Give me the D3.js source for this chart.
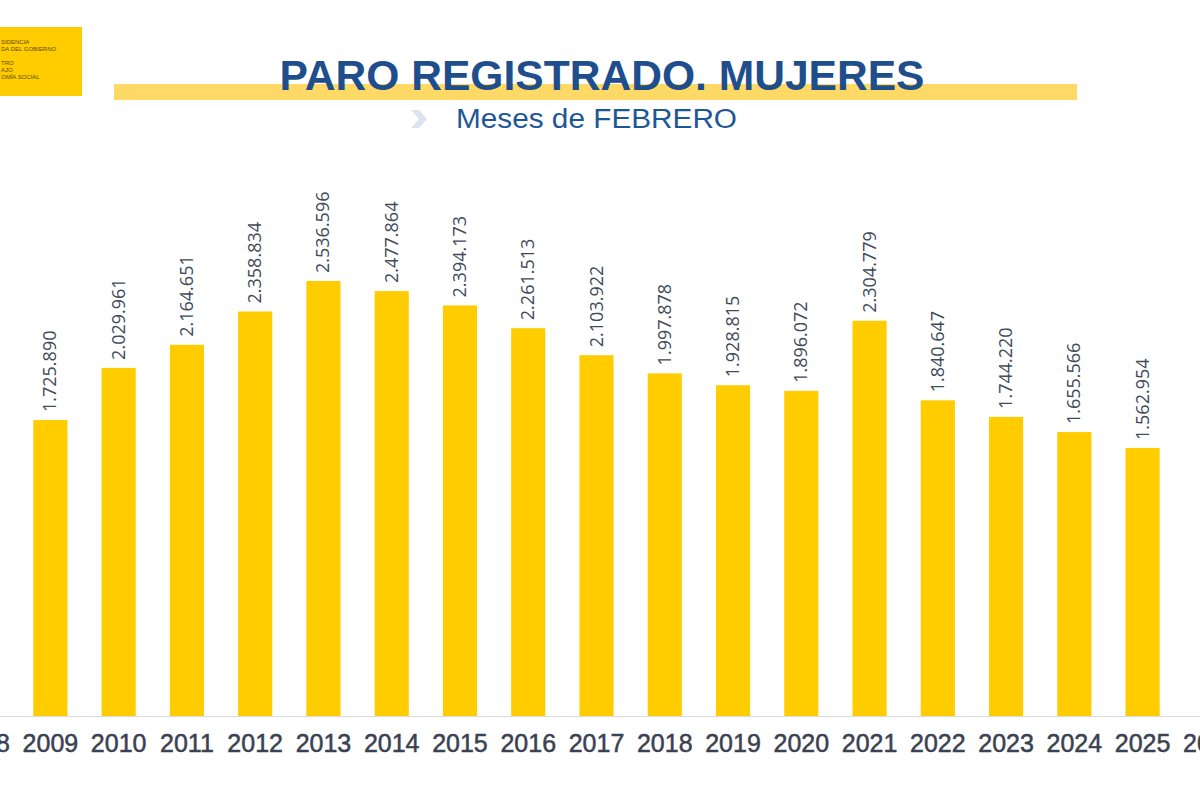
<!DOCTYPE html>
<meta charset="utf-8">
<style>
body { margin: 0; background: #fff; }
svg { font-family: "Liberation Sans", Arial, sans-serif; }
</style>
<body>
<svg id="chart" width="1200" height="800"></svg>
<script src="https://d3js.org/d3.v7.min.js"></script>
<script>
// years on the axis (2008 and 2026 are cut off at the edges)
var years = ["2008","2009","2010","2011","2012","2013","2014","2015","2016","2017",
             "2018","2019","2020","2021","2022","2023","2024","2025","2026"];
var barYears = ["2009","2010","2011","2012","2013","2014","2015","2016","2017",
                "2018","2019","2020","2021","2022","2023","2024","2025"];
var values = [1725890,2029961,2164651,2358834,2536596,2477864,2394173,2261513,2103922,
              1997878,1928815,1896072,2304779,1840647,1744220,1655566,1562954];

var svg = d3.select("#chart");
var fmt = function(v){ return d3.format(",")(v).replace(/,/g, "."); };

var x = d3.scaleBand().domain(years).range([-52, 1245]).paddingInner(0.5).paddingOuter(0.25);
var y = d3.scaleLinear().domain([0, 2536596]).range([716, 281]);

// logo block
svg.append("rect").attr("x",0).attr("y",27).attr("width",82).attr("height",69).attr("fill","#ffcc00");
var logo = ["SIDENCIA","DA DEL GOBIERNO","","TRO","AJO","OMÍA SOCIAL"];
svg.selectAll(".logo").data(logo).enter().append("text")
  .attr("x",1).attr("y",function(d,i){ return 44 + i*7; })
  .attr("font-size",6).attr("fill","#5a4a00").text(function(d){ return d; });

// title band + title
svg.append("rect").attr("x",114).attr("y",84).attr("width",963).attr("height",16).attr("fill","#ffd966");
svg.append("text").attr("x",602).attr("y",90).attr("text-anchor","middle")
  .attr("font-size",42).attr("font-weight","bold").attr("fill","#1f4e8c")
  .attr("textLength",645).attr("lengthAdjust","spacingAndGlyphs")
  .text("PARO REGISTRADO. MUJERES");
svg.append("path").attr("d","M411,110 L419,110 L427,119 L419,128 L411,128 L419,119 Z").attr("fill","#dce3ef");
svg.append("text").attr("x",456).attr("y",128).attr("font-size",27).attr("fill","#1f5796")
  .attr("textLength",281).attr("lengthAdjust","spacingAndGlyphs")
  .text("Meses de FEBRERO");

// bars
var data = barYears.map(function(d,i){ return {year:d, value:values[i]}; });
svg.selectAll(".bar").data(data).enter().append("rect")
  .attr("x",function(d){ return x(d.year); })
  .attr("width",x.bandwidth())
  .attr("y",function(d){ return y(d.value); })
  .attr("height",function(d){ return 716 - y(d.value); })
  .attr("fill","#ffcc00");

// value labels, rotated
svg.selectAll(".lbl").data(data).enter().append("text")
  .attr("transform",function(d){
    return "translate(" + (x(d.year)+x.bandwidth()/2+6) + "," + (y(d.value)-8) + ") rotate(-90)";
  })
  .attr("font-family","'Open Sans', sans-serif")
  .attr("font-size",18).attr("fill","#404a5a").text(function(d){ return fmt(d.value); });

// x axis
var ax = svg.append("g").attr("transform","translate(0,716)")
  .call(d3.axisBottom(x).tickSize(0).tickPadding(18));
ax.select(".domain").attr("stroke","#d9d9d9");
ax.selectAll("text").attr("font-size",25).attr("fill","#3a4152")
  .attr("stroke","#3a4152").attr("stroke-width",0.5)
  .attr("font-family","'Liberation Sans', Arial, sans-serif");
</script>
</body>
